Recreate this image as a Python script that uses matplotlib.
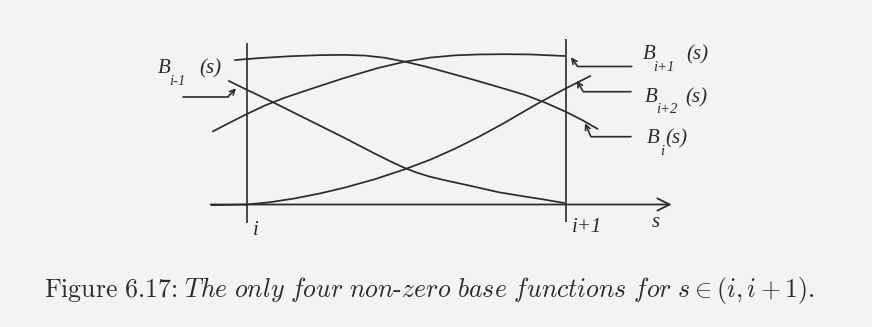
import matplotlib.pyplot as plt
import matplotlib.transforms as mtransforms

W_PX, H_PX, DPI = 872, 327, 100

# s runs in knot units (i -> 0, i+1 -> 1); page mapping of the axes in pixels
S_ORIGIN_PX, S_UNIT_PX = 246.7, 319.0
B_ZERO_PX, B_UNIT_PX = 204.5, 226.0

knots = [0.0, 1.0]
knot_labels = ["i", "i+1"]

# hand-sketched cubic basis functions, sampled along s
s_im1 = [-0.058, 0.0, 0.083, 0.198, 0.302, 0.399, 0.452, 0.493, 0.531, 0.572, 0.619,
         0.697, 0.791, 0.869, 0.932, 0.998]
b_im1 = [0.548, 0.508, 0.452, 0.371, 0.298, 0.227, 0.190, 0.163, 0.142, 0.124, 0.108,
         0.084, 0.054, 0.036, 0.022, 0.006]

s_i = [-0.039, 0.042, 0.136, 0.230, 0.308, 0.371, 0.434, 0.496, 0.559, 0.637, 0.716,
       0.794, 0.872, 0.935, 0.998, 1.051, 1.102]
b_i = [0.639, 0.648, 0.656, 0.661, 0.662, 0.659, 0.649, 0.632, 0.611, 0.581, 0.550,
       0.518, 0.485, 0.451, 0.412, 0.374, 0.333]

s_ip1 = [-0.108, -0.052, 0.0, 0.057, 0.120, 0.198, 0.302, 0.409, 0.496, 0.575, 0.653,
         0.731, 0.810, 0.888, 0.998]
b_ip1 = [0.322, 0.363, 0.400, 0.438, 0.473, 0.510, 0.558, 0.603, 0.632, 0.650, 0.660,
         0.664, 0.665, 0.664, 0.657]

s_ip2 = [-0.112, 0.0, 0.073, 0.151, 0.230, 0.308, 0.402, 0.496, 0.575, 0.653, 0.731,
         0.810, 0.872, 0.923, 0.998, 1.079]
b_ip2 = [-0.003, 0.0, 0.010, 0.027, 0.049, 0.075, 0.112, 0.156, 0.198, 0.247, 0.302,
         0.363, 0.414, 0.455, 0.512, 0.570]

s_axis = (-0.113, 1.332)

ink = "#2b2b2b"
paper = "#f3f3f3"
lbl_font = dict(family="Liberation Serif", style="italic", color=ink)

plt.rcParams["mathtext.fontset"] = "cm"

fig = plt.figure(figsize=(W_PX / DPI, H_PX / DPI), dpi=DPI, facecolor=paper)
ax = fig.add_axes([0, 0, 1, 1])
ax.set_xlim(-S_ORIGIN_PX / S_UNIT_PX, (W_PX - S_ORIGIN_PX) / S_UNIT_PX)
ax.set_ylim((B_ZERO_PX - H_PX) / B_UNIT_PX, B_ZERO_PX / B_UNIT_PX)
ax.axis("off")

# page coordinates in pixels, origin top-left (for labels and callouts)
page = mtransforms.Affine2D().scale(1, -1).translate(0, H_PX)

for xs, ys in [(s_im1, b_im1), (s_i, b_i), (s_ip1, b_ip1), (s_ip2, b_ip2)]:
    ax.plot(xs, ys, color=ink, lw=1.25, solid_joinstyle="round", solid_capstyle="butt")

# knot lines and the s axis
ax.vlines(knots[0], -0.082, 0.715, color=ink, lw=1.2)
ax.vlines(knots[1], -0.077, 0.732, color=ink, lw=1.2)
ax.annotate("", xy=(s_axis[1], 0), xytext=(s_axis[0], 0),
            arrowprops=dict(arrowstyle="->", lw=1.3, color=ink,
                            mutation_scale=22, shrinkA=0, shrinkB=0))

for k, txt, off in zip(knots, knot_labels, [(4.5, -22), (4.5, -19.6)]):
    ax.annotate(txt, xy=(k, 0), xytext=off, textcoords="offset points",
                ha="left", va="baseline", fontsize=15, **lbl_font)
ax.annotate("s", xy=(s_axis[1], 0), xytext=(-14.6, -16), textcoords="offset points",
            ha="left", va="baseline", fontsize=15, **lbl_font)

# labels: (B left, baseline, subscript, sub left, sub baseline, "(s)" left)
labels = [
    (158, 73, "i-1", 169, 85, 199),
    (643, 59, "i+1", 653, 71, 686),
    (645, 102, "i+2", 656, 113, 685),
    (647, 143, "i", 660.5, 155, 665.5),
]
for bx, by, sub, sx, sy, px in labels:
    ax.text(bx, by, "B", transform=page, fontsize=15, va="baseline", **lbl_font)
    ax.text(sx, sy, sub, transform=page, fontsize=10.5, va="baseline", **lbl_font)
    ax.text(px, by, "(s)", transform=page, fontsize=15, va="baseline", **lbl_font)

# callouts: (tip, tail, angle of the short leg at the tip)
callouts = [
    ((236, 88.3), (183, 97), 47),
    ((571, 57.3), (631.7, 66.5), -54),
    ((576.7, 80.7), (631, 91.7), -59),
    ((585, 123.3), (631, 136.7), -66),
]
for tip, tail, ang in callouts:
    ax.annotate("", xy=tip, xycoords=page, xytext=tail, textcoords=page,
                arrowprops=dict(arrowstyle="->", lw=1.2, color=ink, mutation_scale=9,
                                shrinkA=0, shrinkB=0,
                                connectionstyle=f"angle,angleA=0,angleB={ang},rad=0"))

caption = (r"$\text{Figure}\ \text{6.17:}\ \mathit{The\ only\ four\ non}\text{-}"
           r"\mathit{zero\ base\ functions\ for}\ s\in(i,i+1).$")
ax.text(44, 297, caption, transform=page, fontsize=18.6, color=ink,
        ha="left", va="baseline")

fig.savefig("out.png", dpi=DPI, facecolor=paper)
